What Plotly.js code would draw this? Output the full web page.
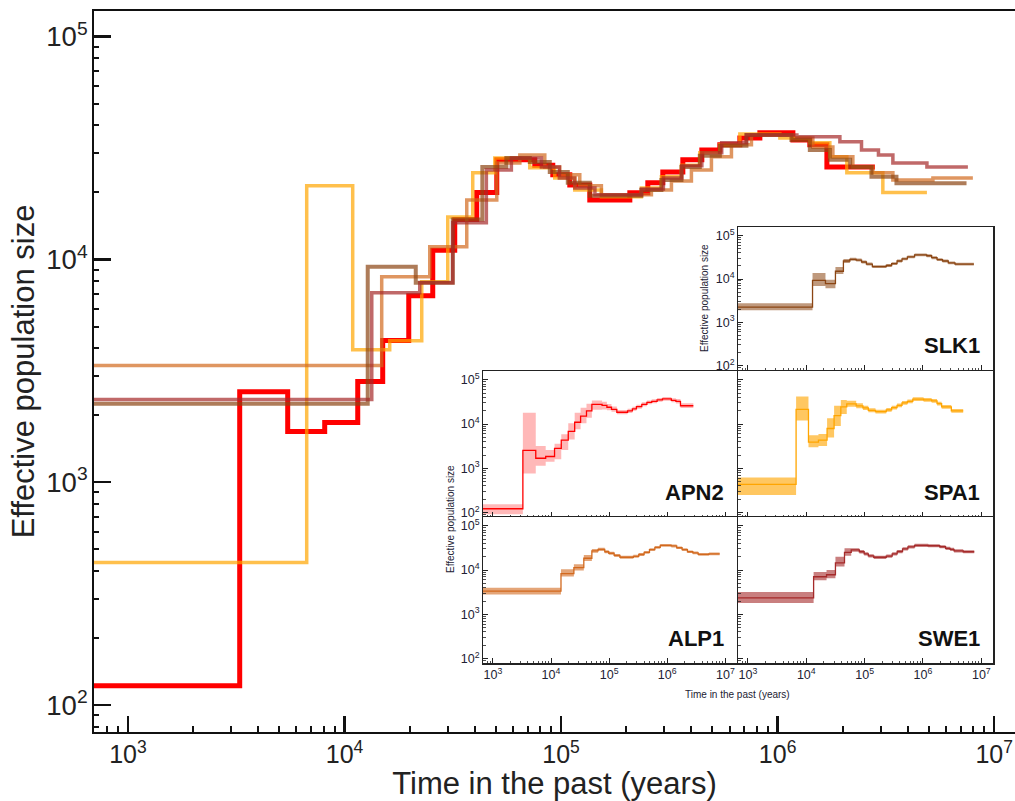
<!DOCTYPE html>
<html><head><meta charset="utf-8">
<script src="https://cdn.plot.ly/plotly-3.0.1.min.js"></script>
<style>html,body{margin:0;padding:0;background:#fff}#chart{width:1015px;height:801px}</style>
</head><body><div id="chart"></div>
<script>
// ---------- data (time in years, effective population size) ----------
const seriesNames = ['APN2', 'SPA1', 'ALP1', 'SLK1', 'SWE1'];

const apn2Time = [650, 3281, 5466, 8100, 11510, 15010, 19800, 25550, 32280, 40780, 50470, 75600, 91550, 109700, 135700, 207700, 251500, 294900, 364900, 446600, 540800, 669000, 827700, 1176000, 1408000, 1688000, 2812000];
const apn2Ne   = [122, 2547, 1690, 1853, 2830, 4325, 6870, 11000, 15100, 19950, 28000, 26500, 24000, 21600, 18500, 19900, 22100, 24700, 28000, 31000, 32700, 35100, 37000, 34400, 32700, 26000, 26000];
const apn2Low  = [92, 760, 1150, 1400, 1600, 2600, 4500, 7600, 10500, 14000, 21000, 21500, 20500, 19000, 16600, 17900, 19900, 22300, 25300, 28000, 29600, 31800, 33500, 31000, 29200, 23000, 23000];
const apn2High = [155, 18000, 3200, 2600, 3600, 5900, 10500, 18000, 23500, 29000, 34000, 32000, 28500, 25000, 20800, 22200, 24600, 27400, 31000, 34300, 36200, 38800, 41000, 38300, 36700, 29500, 29500];

const spa1Time = [650, 6690, 10910, 16170, 22730, 29970, 39090, 49410, 71700, 93500, 115700, 153500, 234900, 290600, 359500, 437000, 540800, 669000, 1024000, 1408000, 1742000, 2087000, 3060000, 4890000];
const spa1Ne   = [436, 21400, 3930, 4320, 7940, 15500, 24500, 28500, 25800, 23200, 20500, 19100, 20900, 23500, 26500, 30100, 32700, 36600, 35100, 33400, 28900, 24500, 19950, 19950];
const spa1Low  = [250, 12000, 3000, 3200, 5000, 9000, 17000, 24500, 22800, 20800, 18600, 17400, 19000, 21300, 24000, 27300, 29700, 33300, 31900, 30300, 26200, 22200, 18000, 18000];
const spa1High = [620, 42000, 5600, 6000, 13500, 26000, 35000, 33500, 29500, 26000, 22700, 21000, 23000, 26000, 29300, 33200, 36000, 40300, 38700, 36800, 31900, 27000, 22000, 22000];

const alp1Time = [650, 14850, 24750, 36680, 50470, 64500, 84100, 98600, 122000, 153500, 261300, 323300, 399800, 494600, 611900, 756800, 1176000, 1454000, 1799000, 2225000, 2752000, 3405000, 5212000, 7970000];
const alp1Ne   = [3340, 8360, 11400, 18500, 27100, 29400, 26000, 24000, 21400, 19500, 20500, 22500, 25200, 28900, 32700, 36200, 35100, 32000, 28900, 26000, 24500, 22700, 23200, 23200];
const alp1Low  = [2800, 7200, 9800, 16000, 24500, 27000, 24000, 22200, 19800, 18100, 19000, 20900, 23400, 26900, 30400, 33700, 32600, 29800, 26900, 24200, 22800, 21100, 21600, 21600];
const alp1High = [4000, 10500, 13500, 22000, 30000, 32000, 28200, 26000, 23100, 21000, 22100, 24200, 27100, 31000, 35100, 38900, 37700, 34300, 31000, 27900, 26300, 24400, 24900, 24900];

const slk1Time = [650, 12800, 21330, 31610, 43290, 55880, 71700, 88680, 107400, 135700, 234900, 290600, 359500, 437000, 540800, 717600, 1158000, 1408000, 1742000, 2162000, 2712000, 3537000, 7450000];
const slk1Ne   = [2250, 9270, 7850, 15100, 26000, 28500, 27400, 24700, 22100, 19300, 20500, 22700, 26000, 29200, 32400, 36200, 34400, 31000, 28000, 26000, 23500, 22000, 22000];
const slk1Low  = [1900, 6900, 6100, 13000, 23500, 26300, 25400, 22900, 20500, 17900, 19000, 21000, 24100, 27100, 30000, 33600, 31900, 28700, 25900, 24100, 21800, 20400, 20400];
const slk1High = [2750, 13700, 9600, 19000, 29000, 31000, 29700, 26700, 23900, 20900, 22100, 24500, 28000, 31500, 35000, 39000, 37100, 33400, 30200, 28000, 25300, 23700, 23700];

const swe1Time = [650, 13360, 22250, 31610, 45190, 58950, 81100, 98200, 115700, 143300, 234900, 296800, 361000, 446600, 551800, 717600, 1227000, 1938000, 2439000, 2921000, 3405000, 4890000, 7560000];
const swe1Ne   = [2350, 7080, 7850, 14600, 25200, 28500, 26000, 23200, 20900, 19500, 20700, 23200, 26300, 30100, 33400, 36200, 35500, 33700, 31000, 29400, 27100, 26000, 26000];
const swe1Low  = [1800, 5900, 6500, 12000, 21000, 26000, 23800, 21300, 19200, 17900, 19000, 21300, 24100, 27600, 30700, 33300, 32700, 31000, 28500, 27000, 24900, 23900, 23900];
const swe1High = [3200, 9000, 10000, 20000, 31000, 31200, 28400, 25300, 22800, 21200, 22500, 25200, 28600, 32700, 36300, 39300, 38500, 36600, 33700, 31900, 29400, 28200, 28200];

// ---------- styling ----------
const W = 1015, H = 801;
const M = {l: 94, r: 0, t: 11, b: 69};
const PW = W - M.l - M.r, PH = H - M.t - M.b;
const fx = px => (px - M.l) / PW;
const fy = py => (M.t + PH - py) / PH;

const series = {
  SPA1: {t: spa1Time, n: spa1Ne, lo: spa1Low, hi: spa1High, main: 'rgba(255,165,0,0.7)', mw: 3.5, line: '#ffa500', band: 'rgba(255,165,0,0.62)', ax: 4},
  ALP1: {t: alp1Time, n: alp1Ne, lo: alp1Low, hi: alp1High, main: 'rgba(210,105,30,0.7)', mw: 3.5, line: '#d2691e', band: 'rgba(210,105,30,0.6)', ax: 5},
  SLK1: {t: slk1Time, n: slk1Ne, lo: slk1Low, hi: slk1High, main: 'rgba(139,69,19,0.7)', mw: 4, line: '#8b4513', band: 'rgba(139,69,19,0.55)', ax: 2},
  SWE1: {t: swe1Time, n: swe1Ne, lo: swe1Low, hi: swe1High, main: 'rgba(165,42,42,0.7)', mw: 3.5, line: '#a52a2a', band: 'rgba(165,42,42,0.6)', ax: 6},
  APN2: {t: apn2Time, n: apn2Ne, lo: apn2Low, hi: apn2High, main: '#ff0000', mw: 5, line: '#ff0000', band: 'rgba(255,0,0,0.28)', ax: 3}
};

const traces = [];
// main plot
seriesNames.forEach(nm => {
  const s = series[nm];
  traces.push({x: s.t, y: s.n, mode: 'lines', name: nm, xaxis: 'x', yaxis: 'y',
    line: {shape: 'hv', color: s.main, width: s.mw}, hoverinfo: 'skip'});
});
// insets
seriesNames.forEach(nm => {
  const s = series[nm];
  const xa = 'x' + s.ax, ya = 'y' + s.ax;
  traces.push({x: s.t, y: s.hi, mode: 'lines', xaxis: xa, yaxis: ya, line: {shape: 'hv', width: 0, color: s.band}, hoverinfo: 'skip'});
  traces.push({x: s.t, y: s.lo, mode: 'lines', xaxis: xa, yaxis: ya, fill: 'tonexty', fillcolor: s.band, line: {shape: 'hv', width: 0, color: s.band}, hoverinfo: 'skip'});
  traces.push({x: s.t, y: s.n, mode: 'lines', xaxis: xa, yaxis: ya, line: {shape: 'hv', width: 1.3, color: s.line}, hoverinfo: 'skip'});
});

const FONT = 'Liberation Sans, Arial, sans-serif';
const layout = {
  width: W, height: H, margin: M, showlegend: false,
  paper_bgcolor: '#fff', plot_bgcolor: '#fff',
  font: {family: FONT, color: '#222'},
  xaxis: {type: 'log', range: [Math.log10(697), 7.096], domain: [0, 1], anchor: 'y',
    showline: true, mirror: true, linecolor: '#111', linewidth: 2,
    ticks: 'inside', ticklen: 16, tickwidth: 2.5, tickcolor: '#111',
    dtick: 1, exponentformat: 'power', tickfont: {size: 20, color: '#222'},
    minor: {ticks: 'inside', ticklen: 6, tickwidth: 2, tickcolor: '#111', dtick: 'D1', showgrid: false},
    showgrid: false, zeroline: false,
    title: {text: 'Time in the past (years)', font: {size: 31, color: '#222'}, standoff: 10}},
  yaxis: {type: 'log', range: [1.879, 5.115], domain: [0, 1], anchor: 'x',
    showline: true, mirror: false, linecolor: '#111', linewidth: 2,
    ticks: 'inside', ticklen: 17, tickwidth: 2.5, tickcolor: '#111',
    dtick: 1, exponentformat: 'power', tickfont: {size: 22, color: '#222'},
    minor: {ticks: 'inside', ticklen: 5, tickwidth: 2, tickcolor: '#111', dtick: 'D1', showgrid: false},
    showgrid: false, zeroline: false,
    title: {text: 'Effective population size', font: {size: 31, color: '#222'}, standoff: 2}},
  annotations: []
};

const cols = {L: [fx(483), fx(737)], R: [fx(738), fx(993)]};
const rows = {1: [fy(370), fy(227)], 2: [fy(517), fy(371)], 3: [fy(663), fy(517)]};
const place = {2: ['R', 1], 3: ['L', 2], 4: ['R', 2], 5: ['L', 3], 6: ['R', 3]};
const axisLabelName = {2: 'SLK1', 3: 'APN2', 4: 'SPA1', 5: 'ALP1', 6: 'SWE1'};

Object.keys(place).forEach(k => {
  const [c, r] = place[k];
  const common = {type: 'log', showline: true, mirror: true, linecolor: '#222', linewidth: 1.5,
    ticks: 'inside', ticklen: 5, tickwidth: 1, tickcolor: '#222', dtick: 1, exponentformat: 'power',
    tickfont: {size: 10, color: '#223'}, showgrid: false, zeroline: false,
    minor: {ticks: 'inside', ticklen: 2.5, tickwidth: 0.8, tickcolor: '#222', dtick: 'D1', showgrid: false}};
  layout['xaxis' + k] = Object.assign({}, common, {range: [2.83, 7.2], domain: cols[c], anchor: 'y' + k,
    showticklabels: (r === 3)});
  layout['yaxis' + k] = Object.assign({}, common, {range: [1.9, 5.2], domain: rows[r], anchor: 'x' + k,
    showticklabels: (c === 'L' || r === 1)});
  layout.annotations.push({text: '<b>' + axisLabelName[k] + '</b>', xref: 'x' + k + ' domain', yref: 'y' + k + ' domain',
    x: 0.955, y: 0.07, xanchor: 'right', yanchor: 'bottom', showarrow: false,
    font: {family: FONT, size: 22, color: '#111'}});
});

layout.annotations.push(
  {text: 'Effective population size', xref: 'paper', yref: 'paper', x: fx(450), y: fy(519), textangle: -90,
   xanchor: 'center', yanchor: 'middle', showarrow: false, font: {family: FONT, size: 10, color: '#223'}},
  {text: 'Effective population size', xref: 'paper', yref: 'paper', x: fx(704), y: fy(298), textangle: -90,
   xanchor: 'center', yanchor: 'middle', showarrow: false, font: {family: FONT, size: 10, color: '#223'}},
  {text: 'Time in the past (years)', xref: 'paper', yref: 'paper', x: fx(737), y: fy(694),
   xanchor: 'center', yanchor: 'middle', showarrow: false, font: {family: FONT, size: 10, color: '#223'}}
);

Plotly.newPlot('chart', traces, layout, {staticPlot: true, displayModeBar: false});
</script></body></html>
